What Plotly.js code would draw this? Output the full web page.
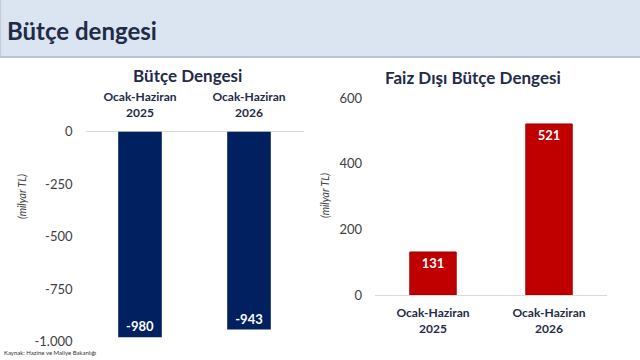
<!DOCTYPE html>
<html>
<head>
<meta charset="utf-8">
<script src="https://cdn.plot.ly/plotly-3.0.1.min.js"></script>
<style>
  html, body { margin: 0; padding: 0; background: #ffffff; }
  #chart { width: 640px; height: 360px; }
</style>
</head>
<body>
<div id="chart"></div>
<script>
// Periods compared in both panels
const periods = ['Ocak-Haziran<br>2025', 'Ocak-Haziran<br>2026'];
// Budget balance (billion TL)
const budgetBalance = [-980, -943];
// Primary (non-interest) budget balance (billion TL)
const primaryBalance = [131, 521];
// Axis ticks
const leftTicks = [0, -250, -500, -750, -1000];
const leftTickText = ['0', '-250', '-500', '-750', '-1.000'];
const rightTicks = [0, 200, 400, 600];
const rightTickText = ['0', '200', '400', '600'];

const W = 640, H = 360;
const px = x => x / W;           // horizontal pixel -> paper fraction
const py = y => 1 - y / H;        // vertical pixel (from top) -> paper fraction

const FONT = 'Lato, "Open Sans", sans-serif';
const NAVY = '#1f2b48';
const TICK = '#404040';

const traces = [
  {
    type: 'bar', x: periods, y: budgetBalance, xaxis: 'x', yaxis: 'y',
    marker: { color: '#002060' },
    text: budgetBalance.map(v => String(v)),
    textposition: 'inside', insidetextanchor: 'end', textangle: 0,
    insidetextfont: { family: FONT, size: 13, color: '#ffffff', weight: 'bold' },
    hoverinfo: 'skip'
  },
  {
    type: 'bar', x: periods, y: primaryBalance, xaxis: 'x2', yaxis: 'y2',
    marker: { color: '#c00000', line: { color: '#a00000', width: 1 } },
    text: primaryBalance.map(v => String(v)),
    textposition: 'inside', insidetextanchor: 'end', textangle: 0,
    insidetextfont: { family: FONT, size: 13, color: '#ffffff', weight: 'bold' },
    hoverinfo: 'skip'
  }
];

const catFont = { family: FONT, size: 12, color: NAVY, weight: 'bold' };
const tickFont = { family: FONT, size: 13, color: TICK };

const layout = {
  width: W, height: H,
  margin: { l: 0, r: 0, t: 0, b: 0 },
  paper_bgcolor: '#ffffff', plot_bgcolor: 'rgba(0,0,0,0)',
  showlegend: false,
  bargap: 0.6,
  font: { family: FONT },
  xaxis: {
    domain: [px(85.5), px(303.5)], anchor: 'y', side: 'top',
    tickfont: catFont, showgrid: false, showline: false, ticks: '',
    ticklabelstandoff: 11, fixedrange: true
  },
  yaxis: {
    domain: [py(341.5), py(131.5)], anchor: 'x',
    range: [-1000, 0], tickvals: leftTicks, ticktext: leftTickText,
    tickfont: tickFont, showgrid: false, showline: false, ticks: '',
    zeroline: true, zerolinecolor: '#d9d9d9', zerolinewidth: 1,
    ticklabelstandoff: 12, fixedrange: true
  },
  xaxis2: {
    domain: [px(375), px(607)], anchor: 'y2',
    tickfont: catFont, showgrid: false, showline: false, ticks: '',
    ticklabelstandoff: 9, fixedrange: true
  },
  yaxis2: {
    domain: [py(295), py(98)], anchor: 'x2',
    range: [0, 600], tickvals: rightTicks, ticktext: rightTickText,
    tickfont: tickFont, showgrid: false, showline: false, ticks: '',
    zeroline: true, zerolinecolor: '#d9d9d9', zerolinewidth: 1,
    ticklabelstandoff: 12, fixedrange: true
  },
  shapes: [
    // header band
    { type: 'rect', xref: 'paper', yref: 'paper', layer: 'below',
      x0: 0, x1: 1, y0: py(57), y1: 1,
      fillcolor: '#dbe4f1', line: { width: 0 } },
    { type: 'line', xref: 'paper', yref: 'paper', layer: 'below',
      x0: 0, x1: 1, y0: py(57), y1: py(57),
      line: { color: '#b9c3d0', width: 2 } },
    { type: 'line', xref: 'paper', yref: 'paper', layer: 'below',
      x0: px(0.5), x1: px(0.5), y0: py(57), y1: 1,
      line: { color: '#c3ccd8', width: 1.5 } }
  ],
  annotations: [
    { text: 'Bütçe dengesi', xref: 'paper', yref: 'paper',
      x: px(5), y: py(30), xanchor: 'left', yanchor: 'middle', showarrow: false,
      font: { family: FONT, size: 24, color: NAVY, weight: 'bold' } },
    { text: 'Bütçe Dengesi', xref: 'paper', yref: 'paper',
      x: px(187), y: py(75), xanchor: 'center', yanchor: 'middle', showarrow: false,
      font: { family: FONT, size: 17, color: NAVY, weight: 'bold' } },
    { text: 'Faiz Dışı Bütçe Dengesi', xref: 'paper', yref: 'paper',
      x: px(473), y: py(77), xanchor: 'center', yanchor: 'middle', showarrow: false,
      font: { family: FONT, size: 17, color: NAVY, weight: 'bold' } },
    { text: '(milyar TL)', xref: 'paper', yref: 'paper', textangle: -90,
      x: px(22), y: py(197), xanchor: 'center', yanchor: 'middle', showarrow: false,
      font: { family: FONT, size: 10.5, color: '#404040', style: 'italic' } },
    { text: '(milyar TL)', xref: 'paper', yref: 'paper', textangle: -90,
      x: px(325), y: py(196), xanchor: 'center', yanchor: 'middle', showarrow: false,
      font: { family: FONT, size: 10.5, color: '#404040', style: 'italic' } },
    { text: 'Kaynak: Hazine ve Maliye Bakanlığı', xref: 'paper', yref: 'paper',
      x: px(2), y: py(352), xanchor: 'left', yanchor: 'middle', showarrow: false,
      font: { family: FONT, size: 6, color: '#333333' } }
  ]
};

Plotly.newPlot('chart', traces, layout, { displayModeBar: false, staticPlot: true });
</script>
</body>
</html>
